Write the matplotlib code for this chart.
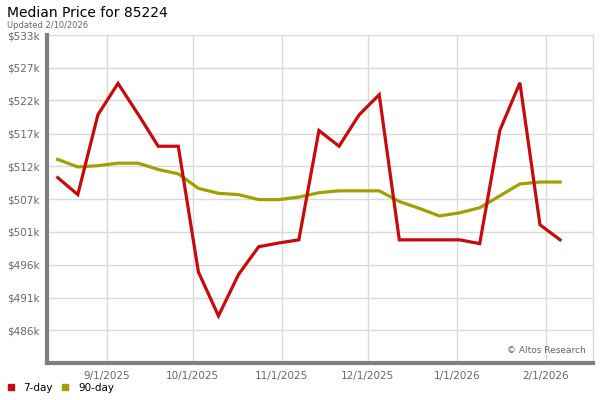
"""
Median price chart for 85224, weekly 7-day and 90-day series
"""
from datetime import date, timedelta

import matplotlib
matplotlib.use("Agg")
import matplotlib.dates as mdates
import matplotlib.pyplot as plt
from matplotlib.lines import Line2D

# weekly readings, Fridays from 2025-08-15 to 2026-02-06 (values in $k)
START = date(2025, 8, 15)
N_WEEKS = 26
seven_day = [510.3, 507.6, 520.3, 525.3, 520.4, 515.3, 515.3, 495.3, 488.3, 494.9,
             499.3, 499.9, 500.4, 517.8, 515.3, 520.3, 523.5, 500.4, 500.4, 500.4,
             500.4, 499.8, 517.8, 525.4, 502.8, 500.4]
ninety_day = [513.2, 512.0, 512.2, 512.6, 512.6, 511.6, 510.9, 508.6, 507.8, 507.6,
              506.8, 506.8, 507.2, 507.9, 508.2, 508.2, 508.2, 506.5, 505.4, 504.2,
              504.7, 505.5, 507.4, 509.3, 509.6, 509.6]

y_ticks = [486.0, 491.2, 496.4, 501.7, 506.9, 512.1, 517.3, 522.6, 527.8, 533.0]
y_labels = ["$486k", "$491k", "$496k", "$501k", "$507k", "$512k", "$517k",
            "$522k", "$527k", "$533k"]
x_ticks = [date(2025, 9, 1), date(2025, 10, 1), date(2025, 11, 1),
           date(2025, 12, 1), date(2026, 1, 1), date(2026, 2, 1)]
x_labels = ["9/1/2025", "10/1/2025", "11/1/2025", "12/1/2025", "1/1/2026", "2/1/2026"]

RED = "#c80a0a"
OLIVE = "#a0a000"
GRID = "#d9d9d9"
AXIS = "#808080"
TEXT = "#666666"

plt.rcParams["font.family"] = ["DejaVu Sans"]

dates = [START + timedelta(weeks=i) for i in range(N_WEEKS)]
xd = mdates.date2num(dates)

fig = plt.figure(figsize=(6, 4), dpi=100)
ax = fig.add_axes([0.078, 0.0925, 0.91, 0.82])

ax.plot(xd, ninety_day, color=OLIVE, linewidth=2.3, solid_joinstyle="miter", zorder=3)
ax.plot(xd, seven_day, color=RED, linewidth=2.3, solid_joinstyle="miter", zorder=4)

ax.set_ylim(480.8, 533.0)
ax.set_xlim(mdates.date2num(date(2025, 8, 11)) + 0.2,
            mdates.date2num(date(2026, 2, 17)) + 0.4)

ax.set_yticks(y_ticks)
ax.set_yticklabels(y_labels)
ax.set_xticks(mdates.date2num(x_ticks))
ax.set_xticklabels(x_labels)
ax.tick_params(axis="both", length=0, labelsize=7.5, labelcolor=TEXT)
ax.tick_params(axis="y", pad=5)
ax.tick_params(axis="x", pad=6)
ax.grid(True, color=GRID, linewidth=1.0, zorder=1)

for side in ("left", "bottom"):
    ax.spines[side].set_color(AXIS)
    ax.spines[side].set_linewidth(3)
ax.spines["top"].set_visible(False)
ax.spines["right"].set_color(GRID)
ax.spines["right"].set_linewidth(1)

ax.text(0.988, 0.025, "\u00a9 Altos Research", transform=ax.transAxes,
        ha="right", va="bottom", fontsize=6.5, color=TEXT)

fig.text(0.012, 0.968, "Median Price for 85224", fontsize=10, color="black",
         ha="left", va="center")
fig.text(0.012, 0.936, "Updated 2/10/2026", fontsize=6, color=TEXT,
         ha="left", va="center")

handles = [Line2D([], [], marker="s", linestyle="", color=RED, markersize=5),
           Line2D([], [], marker="s", linestyle="", color=OLIVE, markersize=5)]
fig.legend(handles, ["7-day", "90-day"], loc="lower left",
           bbox_to_anchor=(-0.006, -0.005), ncol=2, frameon=False, fontsize=7.5,
           handletextpad=0.7, columnspacing=0.7, handlelength=1.0)

fig.savefig("out.png", dpi=100)
